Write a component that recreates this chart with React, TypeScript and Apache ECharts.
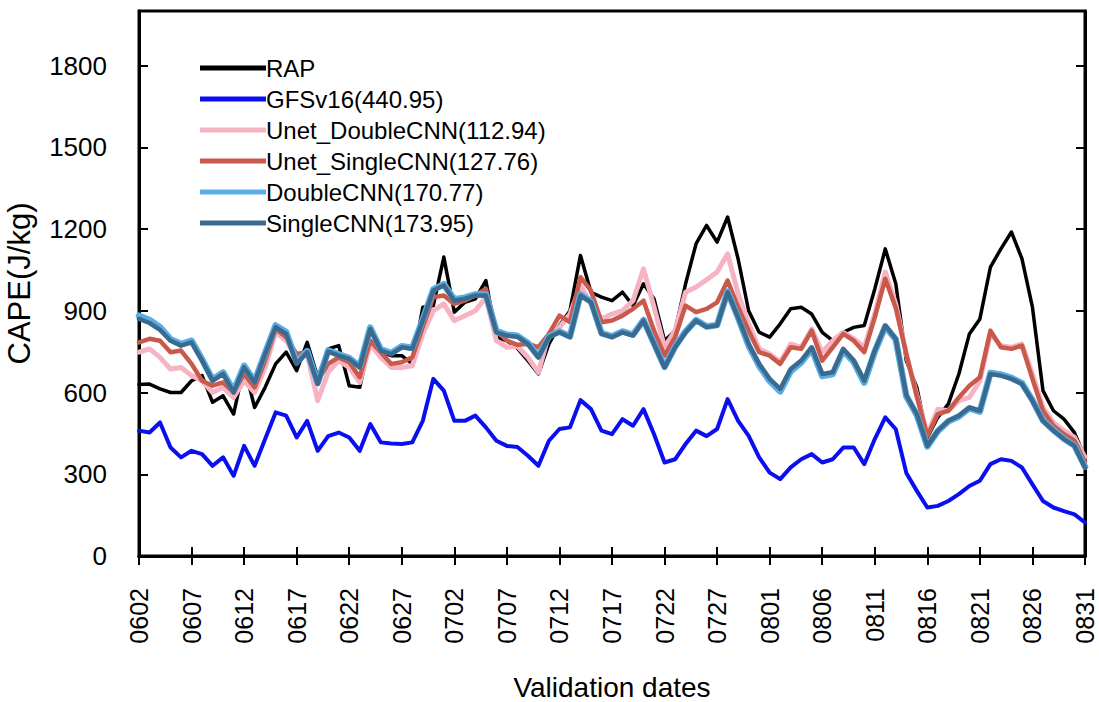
import React, { useEffect, useRef } from "react";
import * as echarts from "echarts";

const dates: string[] = [];
const monthDays: [string, number, number][] = [["06", 2, 30], ["07", 1, 31], ["08", 1, 31]];
for (const [m, s, e] of monthDays) {
  for (let d = s; d <= e; d++) dates.push(m + String(d).padStart(2, "0"));
}

const rap = [629, 631, 613, 600, 600, 643, 662, 564, 588, 521, 699, 545, 619, 705, 748, 680, 784, 656, 760,
  772, 625, 619, 790, 748, 735, 735, 705, 913, 919, 1097, 895, 931, 944, 1011, 803, 790,
  762, 717, 668, 778, 846, 900, 1103, 968, 950, 937, 968, 919, 999, 943, 790, 827, 999, 1146,
  1213, 1152, 1244, 1090, 900, 821, 803, 852, 907, 913, 888, 821, 790, 821, 839, 846, 980, 1127,
  999, 717, 619, 435, 509, 558, 668, 815, 870, 1060, 1127, 1189, 1091, 913, 607, 533, 502, 453, 360];

const gfs = [460, 453, 490, 398, 362, 386, 374, 331, 362, 294, 404, 331, 429, 527, 515, 435, 496, 386, 440,
  453, 435, 386, 484, 417, 413, 411, 417, 496, 650, 607, 496, 496, 515, 472, 423, 404,
  400, 368, 331, 423, 466, 472, 572, 539, 460, 447, 502, 478, 539, 447, 343, 355, 411, 460,
  440, 466, 576, 496, 441, 362, 306, 282, 325, 355, 374, 343, 355, 398, 398, 337, 429, 509,
  465, 305, 239, 178, 184, 202, 227, 257, 276, 337, 355, 349, 325, 263, 202, 178, 165, 153, 123];

const unetDouble = [748, 760, 729, 686, 692, 662, 643, 600, 619, 582, 643, 600, 692, 821, 790, 729, 741, 570, 675,
  717, 692, 637, 778, 729, 692, 692, 698, 815, 900, 925, 864, 882, 900, 950, 790, 766,
  770, 729, 674, 815, 839, 888, 993, 925, 870, 888, 900, 937, 1054, 913, 766, 827, 968, 987,
  1014, 1042, 1109, 962, 852, 760, 741, 711, 778, 766, 833, 748, 790, 821, 797, 766, 888, 1042,
  925, 741, 591, 447, 539, 533, 570, 582, 643, 815, 772, 766, 778, 668, 545, 490, 460, 435, 362];

const unetSingle = [784, 797, 790, 748, 754, 705, 643, 625, 637, 600, 668, 619, 717, 833, 803, 741, 748, 643, 705,
  729, 711, 656, 790, 748, 705, 711, 729, 840, 950, 956, 925, 937, 956, 980, 827, 790,
  775, 778, 766, 815, 882, 858, 1023, 974, 858, 864, 882, 907, 937, 827, 735, 803, 919, 895,
  907, 931, 1011, 913, 827, 748, 735, 705, 766, 760, 827, 717, 766, 815, 790, 748, 876, 1017,
  910, 741, 585, 441, 521, 533, 582, 625, 656, 827, 766, 760, 772, 650, 533, 478, 447, 423, 345];

const doubleCNN = [882, 866, 840, 796, 778, 790, 722, 648, 674, 606, 698, 642, 745, 846, 822, 712, 752, 636, 754,
  740, 726, 696, 838, 758, 745, 770, 764, 868, 978, 998, 942, 948, 960, 960, 826, 812,
  808, 782, 732, 806, 824, 806, 960, 934, 818, 806, 824, 812, 866, 780, 694, 768, 824, 866,
  842, 848, 970, 874, 772, 698, 642, 604, 678, 710, 760, 660, 668, 754, 712, 636, 750, 842,
  794, 586, 518, 402, 458, 494, 512, 542, 530, 672, 666, 654, 634, 572, 498, 462, 430, 405, 328];

const singleCNN = [870, 855, 830, 790, 772, 784, 717, 643, 668, 600, 692, 637, 741, 840, 815, 705, 748, 631, 750,
  735, 723, 692, 833, 754, 741, 766, 760, 864, 974, 993, 937, 944, 956, 956, 821, 809,
  805, 778, 729, 803, 821, 803, 956, 931, 815, 803, 821, 809, 864, 778, 692, 766, 821, 864,
  840, 846, 968, 876, 778, 705, 650, 613, 686, 717, 766, 668, 674, 760, 717, 643, 754, 846,
  797, 590, 521, 404, 460, 496, 515, 545, 533, 668, 662, 650, 631, 570, 496, 460, 429, 404, 325];

const seriesNames = [
  "RAP",
  "GFSv16(440.95)",
  "Unet_DoubleCNN(112.94)",
  "Unet_SingleCNN(127.76)",
  "DoubleCNN(170.77)",
  "SingleCNN(173.95)",
];
const seriesData = [rap, gfs, unetDouble, unetSingle, doubleCNN, singleCNN];
const colors = ["#000000", "#0a0ff0", "#f6b3c2", "#c95a4b", "#5aaee6", "#3b6a8f"];
const widths = [3.5, 4, 5, 4.5, 6.5, 4.5];

const yTicks = [0, 300, 600, 900, 1200, 1500, 1800];

const FONT = "Liberation Sans, Arial, Helvetica, sans-serif";

export default function App() {
  const ref = useRef<HTMLDivElement>(null);
  useEffect(() => {
    if (!ref.current) return;
    const chart = echarts.init(ref.current, undefined, { renderer: "svg" });
    const tickStyle = { show: true, inside: true, length: 9, lineStyle: { color: "#000", width: 2 } };
    chart.setOption({
      animation: false,
      backgroundColor: "#fff",
      grid: {
        left: 139, right: 14, top: 11, bottom: 146,
        outerBoundsMode: "none",
        containLabel: false,
        show: true, borderColor: "#000", borderWidth: 3, backgroundColor: "transparent",
      },
      legend: {
        show: true,
        orient: "vertical",
        left: 200,
        top: 55,
        padding: 0,
        icon: "rect",
        itemWidth: 66,
        itemHeight: 5,
        itemGap: 5,
        data: seriesNames,
        textStyle: { fontFamily: FONT, fontSize: 24, color: "#000", lineHeight: 26, padding: [0, 0, 0, -5] },
      },
      xAxis: [
        {
          type: "category",
          data: dates,
          boundaryGap: false,
          position: "bottom",
          axisLine: { show: true, lineStyle: { color: "#000", width: 3 } },
          axisTick: { ...tickStyle, interval: 4, alignWithLabel: true },
          axisLabel: {
            interval: 4, rotate: 90, margin: 32, color: "#000", fontSize: 25, lineHeight: 19,
            fontFamily: FONT,
          },
          splitLine: { show: false },
          name: "Validation dates",
          nameLocation: "middle",
          nameGap: 117,
          nameTextStyle: { fontFamily: FONT, fontSize: 28, color: "#000" },
        },
        {
          type: "category",
          data: dates,
          boundaryGap: false,
          position: "top",
          axisLine: { show: true, lineStyle: { color: "#000", width: 3 } },
          axisTick: { ...tickStyle, interval: 4 },
          axisLabel: { show: false },
          splitLine: { show: false },
        },
      ],
      yAxis: [
        {
          type: "value",
          min: 0,
          max: 2000,
          interval: 300,
          position: "left",
          axisLine: { show: true, lineStyle: { color: "#000", width: 3 } },
          axisTick: tickStyle,
          axisLabel: {
            margin: 32, color: "#000", fontSize: 26, fontFamily: FONT,
            formatter: (v: number) => (yTicks.includes(v) ? String(v) : ""),
          },
          splitLine: { show: false },
          name: "CAPE(J/kg)",
          nameLocation: "middle",
          nameGap: 104,
          nameTextStyle: { fontFamily: FONT, fontSize: 31, color: "#000" },
        },
        {
          type: "value",
          min: 0,
          max: 2000,
          interval: 300,
          position: "right",
          axisLine: { show: true, lineStyle: { color: "#000", width: 3 } },
          axisTick: tickStyle,
          axisLabel: { show: false },
          splitLine: { show: false },
        },
      ],
      series: seriesNames.map((name, i) => ({
        name,
        type: "line",
        data: seriesData[i],
        xAxisIndex: 0,
        yAxisIndex: 0,
        showSymbol: false,
        symbol: "none",
        color: colors[i],
        lineStyle: { color: colors[i], width: widths[i], join: "round", cap: "round" },
        itemStyle: { color: colors[i] },
        z: 2 + i,
      })),
    });
    return () => chart.dispose();
  }, []);
  return (
    <div
      ref={ref}
      style={{ position: "fixed", left: 0, top: 0, width: 1099, height: 702, background: "#fff" }}
    />
  );
}
